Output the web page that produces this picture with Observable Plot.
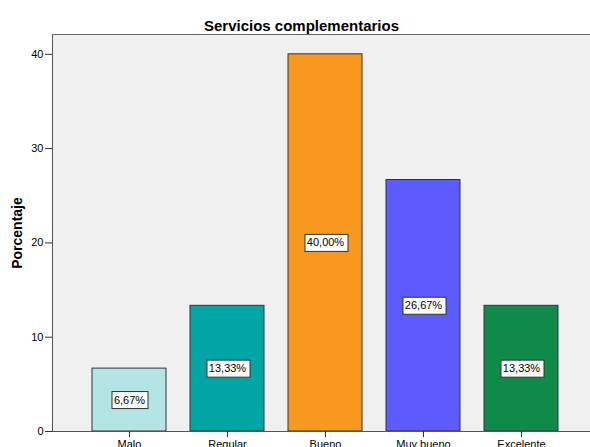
<!DOCTYPE html>
<html>
<head>
<meta charset="utf-8">
<script src="https://cdn.jsdelivr.net/npm/d3@7"></script>
<script src="https://cdn.jsdelivr.net/npm/@observablehq/plot@0.6"></script>
<style>
  html, body { margin: 0; padding: 0; background: #fff; overflow: hidden; }
  svg { font-family: "Liberation Sans", Arial, sans-serif; }
</style>
</head>
<body>
<script>
const categories = ["Malo", "Regular", "Bueno", "Muy bueno", "Excelente"];
const values = [6.67, 13.33, 40.00, 26.67, 13.33];
const labels = ["6,67%", "13,33%", "40,00%", "26,67%", "13,33%"];
const colors = ["#b3e5e5", "#00a6a4", "#f8991f", "#5b5bff", "#108a48"];
const yTicks = [0, 10, 20, 30, 40];
const title = "Servicios complementarios";
const yLabel = "Porcentaje";

const data = categories.map((c, i) => ({cat: c, value: values[i], label: labels[i], color: colors[i]}));

const chart = Plot.plot({
  width: 590,
  height: 447,
  marginLeft: 52,
  marginRight: 0,
  marginTop: 34,
  marginBottom: 16,
  style: {fontFamily: "'Liberation Sans', Arial, sans-serif", background: "#fff", overflow: "hidden"},
  x: {domain: categories, range: [50.5, 599.5], paddingInner: 0.25, paddingOuter: 0.405, label: null},
  y: {domain: [0, 42.1], label: null},
  marks: [
    Plot.frame({fill: "#f0f0f0", stroke: null}),
    Plot.barY(data, {x: "cat", y: "value", fill: "color", stroke: "#333", strokeWidth: 1}),
    Plot.text(data, {x: "cat", y: d => d.value / 2, text: "label", fontSize: 11, fill: "#000", className: "barlabel"}),
    Plot.frame({anchor: "left", stroke: "#555", strokeOpacity: 1}),
    Plot.frame({anchor: "top", stroke: "#666", strokeOpacity: 1}),
    Plot.frame({anchor: "bottom", stroke: "#555", strokeOpacity: 1}),
    Plot.axisY({ticks: yTicks, tickSize: 7, tickPadding: 2, fontSize: 11, stroke: "#333", fill: "#000", label: null}),
    Plot.axisX({tickSize: 6, tickPadding: 3, fontSize: 11, stroke: "#333", fill: "#000", label: null}),
    Plot.text([title], {text: d => d, frameAnchor: "top", dx: -20, dy: -14, fontSize: 15, fontWeight: "bold", fill: "#000"}),
    Plot.text([yLabel], {text: d => d, frameAnchor: "left", textAnchor: "middle", dx: -35, dy: 0, rotate: -90, fontSize: 14, fontWeight: "bold", fill: "#000"})
  ]
});
document.body.append(chart);

// white boxes behind bar value labels
d3.select(chart).selectAll(".barlabel text").each(function() {
  const b = this.getBBox();
  const r = document.createElementNS("http://www.w3.org/2000/svg", "rect");
  const t = this.getAttribute("transform");
  if (t) r.setAttribute("transform", t);
  const cx = b.x + b.width / 2, cy = b.y + b.height / 2;
  const w = Math.round(b.width + 5), h = 17;
  r.setAttribute("x", Math.round(cx - w / 2) + 0.5);
  r.setAttribute("y", Math.round(cy - h / 2) + 0.5);
  r.setAttribute("width", w);
  r.setAttribute("height", h);
  r.setAttribute("fill", "#fff");
  r.setAttribute("stroke", "#333");
  this.parentNode.insertBefore(r, this);
});
</script>
</body>
</html>
